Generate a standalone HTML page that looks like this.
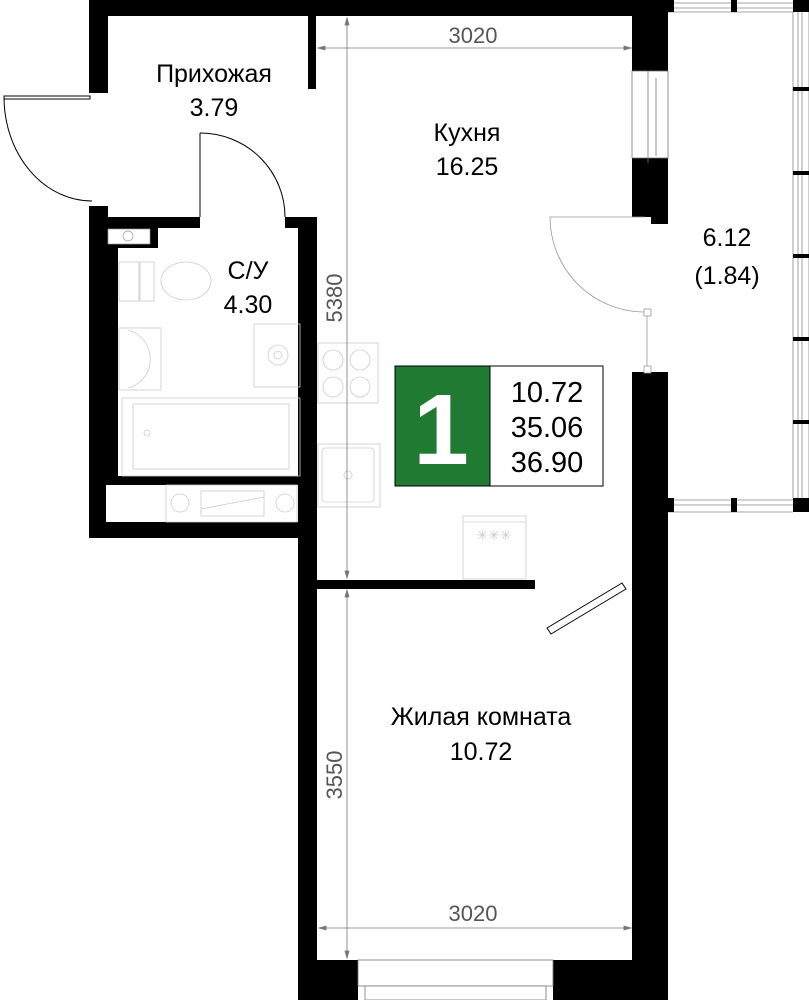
<!DOCTYPE html>
<html><head><meta charset="utf-8"><style>
html,body{margin:0;padding:0;background:#fff;}
svg{display:block}
text{font-family:"Liberation Sans","DejaVu Sans",sans-serif;}
</style></head><body>
<svg width="809" height="1000" viewBox="0 0 809 1000" xmlns="http://www.w3.org/2000/svg">
<rect width="809" height="1000" fill="#fff"/>
<g fill="#000">
<rect x="89" y="0" width="19" height="93"/>
<rect x="108" y="0" width="560" height="16"/>
<rect x="308" y="16" width="8" height="73"/>
<rect x="632" y="0" width="36" height="71"/>
<rect x="632" y="158" width="36" height="59"/>
<rect x="651" y="217" width="17" height="7"/>
<rect x="632" y="372" width="36" height="628"/>
<rect x="89" y="206" width="19" height="332"/>
<rect x="89" y="217" width="29" height="268"/>
<rect x="108" y="217" width="92" height="11"/>
<rect x="285" y="217" width="32" height="11"/>
<rect x="298" y="217" width="19" height="783"/>
<rect x="118" y="476" width="198" height="9"/>
<rect x="89" y="522" width="227" height="16"/>
<rect x="108" y="226" width="50" height="22"/>
<rect x="317" y="580" width="218" height="9"/>
<rect x="298" y="960" width="60" height="40"/>
<rect x="553" y="960" width="115" height="40"/>
</g>
<rect x="106" y="485" width="191" height="37" fill="#fff"/>
<rect x="108" y="229" width="42" height="15" fill="#fff" stroke="#999" stroke-width="0.7"/>
<circle cx="128" cy="236" r="5" fill="none" stroke="#999" stroke-width="0.7"/>
<g fill="#fff" stroke="#777" stroke-width="0.8">
<rect x="632" y="71" width="36" height="87"/>
<line x1="648" y1="71" x2="648" y2="163"/>
<line x1="656" y1="78" x2="656" y2="156"/>
<rect x="358" y="960" width="195" height="26"/>
<rect x="365" y="986" width="181" height="14"/>
</g>
<g stroke="#888" stroke-width="0.8" fill="none">
<line x1="668" y1="3" x2="793" y2="3"/><line x1="668" y1="8" x2="793" y2="8"/><line x1="668" y1="12" x2="793" y2="12"/>
<line x1="668" y1="500" x2="793" y2="500"/><line x1="668" y1="505" x2="793" y2="505"/><line x1="668" y1="512" x2="793" y2="512"/>
<line x1="793" y1="12" x2="793" y2="498"/><line x1="798" y1="12" x2="798" y2="498"/><line x1="802" y1="12" x2="802" y2="498"/><line x1="809" y1="12" x2="809" y2="498"/>
</g>
<g fill="#000">
<rect x="668" y="0" width="6" height="12"/><rect x="731" y="0" width="6" height="12"/><rect x="793" y="0" width="16" height="12"/>
<rect x="668" y="498" width="6" height="14"/><rect x="731" y="498" width="6" height="14"/><rect x="793" y="498" width="16" height="14"/>
<rect x="793" y="87" width="16" height="4"/><rect x="793" y="171" width="16" height="4"/><rect x="793" y="254" width="16" height="4"/><rect x="793" y="337" width="16" height="4"/><rect x="793" y="420" width="16" height="4"/>
</g>
<g fill="none" stroke="#000" stroke-width="1">
<rect x="4" y="96" width="86" height="3" fill="#fff"/>
<path d="M4,97 A88,104 0 0 0 92,201"/>
<line x1="200" y1="133" x2="200" y2="217"/>
<path d="M200,133 A85,84 0 0 1 285,217"/>
</g>
<g fill="none" stroke="#999" stroke-width="0.8">
<line x1="550" y1="217" x2="645" y2="217"/>
<path d="M550,217 A95,95 0 0 0 645,312"/>
<rect x="644" y="309" width="7" height="7" fill="#fff"/>
<rect x="644" y="366" width="7" height="7" fill="#fff"/>
<line x1="647" y1="316" x2="647" y2="366"/>
</g>
<polygon points="547,628 551,634 626,589 622,583" fill="#fff" stroke="#000" stroke-width="1"/>
<g fill="none" stroke="#ccc" stroke-width="0.8">
<rect x="119" y="262" width="20" height="39"/>
<rect x="140" y="262" width="14" height="39"/>
<ellipse cx="186" cy="281" rx="25" ry="19"/>
<rect x="119" y="328" width="42" height="62"/>
<path d="M128,330 A30,30 0 0 1 128,388"/>
<rect x="254" y="324" width="46" height="63"/>
<circle cx="278" cy="355" r="10"/><circle cx="278" cy="355" r="4"/>
<rect x="122" y="398" width="178" height="78"/>
<rect x="133" y="404" width="156" height="65"/>
<circle cx="147" cy="433" r="3"/>
<rect x="166" y="485" width="131" height="37"/>
<rect x="201" y="491" width="63" height="25"/>
<circle cx="180" cy="503" r="9"/><circle cx="285" cy="503" r="9"/>
<line x1="201" y1="509" x2="264" y2="497"/>
<rect x="318" y="343" width="60" height="60"/>
<circle cx="333" cy="360" r="10"/><circle cx="360" cy="360" r="10"/><circle cx="333" cy="387" r="10"/><circle cx="360" cy="387" r="10"/>
<rect x="318" y="444" width="62" height="63"/>
<rect x="322" y="448" width="52" height="54" rx="3"/>
<circle cx="348" cy="475" r="4"/>
<rect x="463" y="516" width="63" height="63"/>
<line x1="463" y1="522" x2="526" y2="522"/>
<text x="494" y="540" font-size="14" fill="#ccc" stroke="none" text-anchor="middle">✳✳✳</text>
</g>
<g stroke="#777" stroke-width="0.8" fill="#777">
<line x1="347" y1="18" x2="347" y2="578"/>
<line x1="318" y1="48" x2="632" y2="48"/>
<line x1="347" y1="590" x2="347" y2="958"/>
<line x1="319" y1="928" x2="631" y2="928"/>
<polygon points="347,18 345,25 349,25"/><polygon points="347,578 345,571 349,571"/>
<polygon points="631,48 624,46 624,50"/><polygon points="318,48 325,46 325,50"/>
<polygon points="347,590 345,597 349,597"/><polygon points="347,958 345,951 349,951"/>
<polygon points="319,928 326,926 326,930"/><polygon points="631,928 624,926 624,930"/>
</g>
<g fill="#555" font-size="22">
<text x="473" y="43" text-anchor="middle">3020</text>
<text x="473" y="921" text-anchor="middle">3020</text>
<text transform="translate(342,298) rotate(-90)" text-anchor="middle">5380</text>
<text transform="translate(342,775) rotate(-90)" text-anchor="middle">3550</text>
</g>
<g fill="#000" font-size="25" text-anchor="middle">
<text x="214" y="82">Прихожая</text><text x="214" y="116">3.79</text>
<text x="467" y="141">Кухня</text><text x="467" y="175">16.25</text>
<text x="248" y="279">С/У</text><text x="248" y="313">4.30</text>
<text x="727" y="246">6.12</text><text x="727" y="284">(1.84)</text>
<text x="481" y="725">Жилая комната</text><text x="481" y="760">10.72</text>
</g>
<rect x="395" y="366" width="95" height="120" fill="#217a32" stroke="#000" stroke-width="1"/>
<rect x="490" y="366" width="113" height="120" fill="#fff" stroke="#000" stroke-width="1"/>
<text x="441" y="464" font-size="100" font-weight="bold" fill="#fff" text-anchor="middle">1</text>
<g font-size="29" fill="#000" text-anchor="middle">
<text x="547" y="402">10.72</text><text x="547" y="437">35.06</text><text x="547" y="472">36.90</text>
</g>
</svg>
</body></html>
